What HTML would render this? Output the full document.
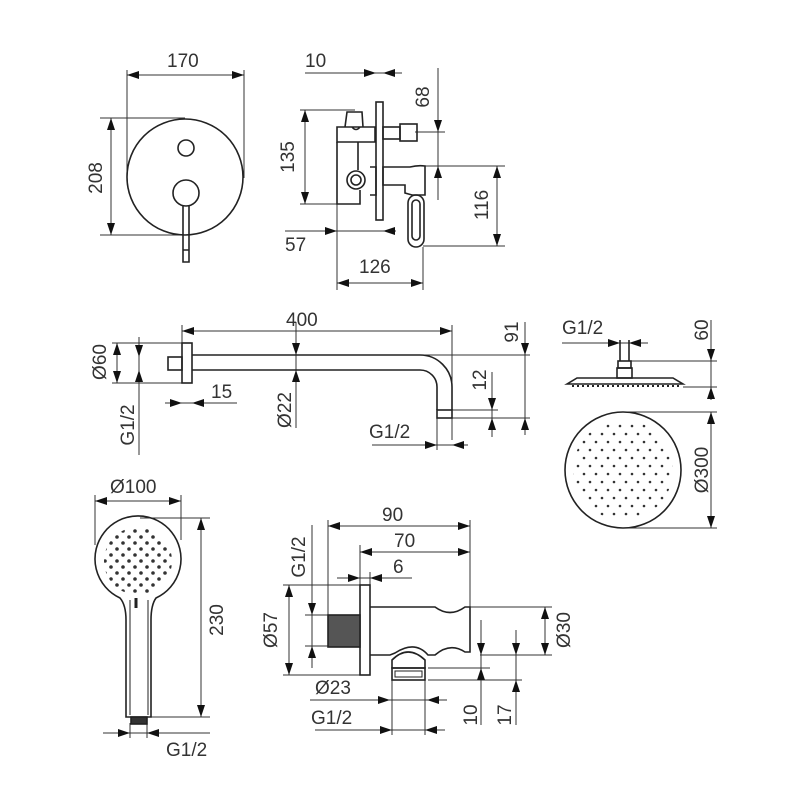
<!DOCTYPE html>
<html><head><style>body{margin:0;background:#fff}svg{display:block}text{font-family:"Liberation Sans",sans-serif;font-size:19px;fill:#333}</style></head><body>
<svg width="800" height="800" viewBox="0 0 800 800" xmlns="http://www.w3.org/2000/svg">
<defs><marker id="a" markerUnits="userSpaceOnUse" markerWidth="12" markerHeight="8" refX="12" refY="4" orient="auto"><path d="M0,0L12,4L0,8z" fill="#111"/></marker>
<clipPath id="rc"><circle cx="623" cy="470" r="50"/></clipPath>
<clipPath id="hc"><circle cx="138" cy="561" r="34"/></clipPath>
<pattern id="rp" x="0" y="0" width="12" height="16" patternUnits="userSpaceOnUse"><circle cx="2" cy="2" r="1.3" fill="#333"/><circle cx="8" cy="10" r="1.3" fill="#333"/></pattern>
<pattern id="hp" x="0" y="0" width="12" height="12" patternUnits="userSpaceOnUse"><circle cx="3" cy="3" r="1.8" fill="#333"/><circle cx="9" cy="9" r="1.8" fill="#333"/></pattern>
</defs>
<g stroke="#333" stroke-width="1" fill="none">
<path d="M127,70V180M244,70V178M127,75H244"/>
<path d="M100,118H185M100,235H185M111,118V235"/>
<path d="M305,73H402"/>
<path d="M300,110H355M300,204H337M305,110V204"/>
<path d="M415,132H445M425,166H505M438,68V200"/>
<path d="M423,246H505M497,166V246"/>
<path d="M285,231H395M337,204V290M423,247V290"/>
<path d="M337,283H423"/>
<path d="M182,325V345M452,325V440M182,331H452"/>
<path d="M112,343H185M112,383H185M117,343V383"/>
<path d="M139,337V455"/>
<path d="M165,403H237"/>
<path d="M296,322V428"/>
<path d="M420,355H530M452,418H530M525,322V435"/>
<path d="M452,410H498M492,372V437"/>
<path d="M372,445H468M437,418V450"/>
<path d="M562,343H648"/>
<path d="M630,361H717M683,387H717M711,320V395"/>
<path d="M625,412H717M625,528H717M711,412V528"/>
<path d="M95,495V545M181,495V540M95,501H181"/>
<path d="M140,518H210M150,717H210M201,518V717"/>
<path d="M103,733H210M130,723V738M147,723V738"/>
<path d="M328,520V615M470,520V607M328,526H470"/>
<path d="M360,545V585M360,552H470"/>
<path d="M337,578H412M370,572V585"/>
<path d="M305,615H328M305,646H328M312,525V668"/>
<path d="M283,585H360M283,675H360M289,585V675"/>
<path d="M470,607H552M480,655H552M545,607V655"/>
<path d="M428,668H490M481,620V725"/>
<path d="M428,680H522M516,630V725"/>
<path d="M310,700H447M392,680V735M425,680V735"/>
<path d="M315,730H445"/>
</g>
<g stroke="#333" stroke-width="1" marker-end="url(#a)">
<path d="M147,75H127"/><path d="M224,75H244"/>
<path d="M111,138V118"/><path d="M111,215V235"/>
<path d="M356,73H376"/><path d="M402,73H383"/>
<path d="M305,130V110"/><path d="M305,184V204"/>
<path d="M438,112V132"/><path d="M438,186V166"/>
<path d="M497,186V166"/><path d="M497,226V246"/>
<path d="M317,231H337"/><path d="M396,231H383"/>
<path d="M357,283H337"/><path d="M403,283H423"/>
<path d="M202,331H182"/><path d="M432,331H452"/>
<path d="M117,363V343"/><path d="M117,363V383"/>
<path d="M139,337V357"/><path d="M139,390V370"/>
<path d="M165,403H182"/><path d="M212,403H192"/>
<path d="M296,335V355"/><path d="M296,390V370"/>
<path d="M525,335V355"/><path d="M525,435V418"/>
<path d="M492,390V410"/><path d="M492,437V418"/>
<path d="M417,445H437"/><path d="M468,445H452"/>
<path d="M600,343H620"/><path d="M648,343H629"/>
<path d="M711,340V361"/><path d="M711,400V387"/>
<path d="M711,432V412"/><path d="M711,508V528"/>
<path d="M115,501H95"/><path d="M161,501H181"/>
<path d="M201,538V518"/><path d="M201,697V717"/>
<path d="M110,733H130"/><path d="M167,733H147"/>
<path d="M348,526H328"/><path d="M450,526H470"/>
<path d="M380,552H360"/><path d="M450,552H470"/>
<path d="M340,578H360"/><path d="M390,578H370"/>
<path d="M312,595V615"/><path d="M312,666V646"/>
<path d="M289,605V585"/><path d="M289,655V675"/>
<path d="M545,627V607"/><path d="M545,635V655"/>
<path d="M481,635V655"/><path d="M481,690V668"/>
<path d="M516,635V655"/><path d="M516,700V680"/>
<path d="M370,700H390"/><path d="M447,700H427"/>
<path d="M372,730H392"/><path d="M445,730H425"/>
</g>
<rect x="570" y="418" width="106" height="106" fill="url(#rp)" clip-path="url(#rc)"/>
<rect x="100" y="523" width="76" height="76" fill="url(#hp)" clip-path="url(#hc)"/>
<g stroke="#222" stroke-width="1.6" fill="none">
<circle cx="185" cy="177" r="58"/><circle cx="186" cy="148" r="8"/><circle cx="186" cy="193" r="13"/>
<path d="M183,206V262H189V206M183,250H189"/>
<rect x="376" y="102" width="7" height="118"/>
<path d="M337,127H375V142H337zM345,127L347,112H362L363,127M352,127Q356,132 360,127"/>
<path d="M337,142V204H360V190M358,142V170"/>
<circle cx="356" cy="180" r="9"/><circle cx="356" cy="180" r="5"/>
<path d="M370,167H376V195H370"/>
<rect x="383" y="127" width="17" height="12"/><rect x="400" y="124" width="17" height="17"/>
<path d="M383,167H410Q418,165 425,166V195H412L405,193V185L383,185Z"/>
<rect x="408" y="195" width="16" height="52" rx="8"/><rect x="412" y="200" width="8" height="40" rx="4"/>
<rect x="182" y="343" width="10" height="40"/><rect x="168" y="357" width="14" height="13"/>
<path d="M192,355H420A32,32 0 0 1 452,387V410M192,370H420A17,17 0 0 1 437,387V410"/>
<rect x="437" y="410" width="15" height="8"/>
<path d="M620,340V361M629,340V361"/><rect x="618" y="361" width="13" height="7"/><rect x="617" y="368" width="15" height="10"/>
<path d="M567,384L577,378H673L683,384Z"/>
<path d="M572,386H680" stroke-dasharray="2,3" stroke-width="2"/>
<circle cx="623" cy="470" r="58"/>
<path d="M126,717V620Q126,605 120,598 A43,43 0 1 1 156,598 Q151,605 151,620V717Z"/>
<path d="M130,600V715M148,600V715" stroke-width="1"/>
<rect x="131" y="717" width="16" height="7" fill="#333"/>
<path d="M136,598V608" stroke-width="3"/>
<rect x="360" y="585" width="10" height="90"/>
<rect x="328" y="615" width="32" height="32" fill="#555"/>
<path d="M370,607H435Q450,618 465,607H470V652H465Q450,642 435,655H428Q415,640 395,653L390,655H370"/>
<path d="M392,660Q408,644 425,660V668H392Z"/>
<rect x="392" y="668" width="33" height="12"/><rect x="395" y="671" width="27" height="6" stroke-width="1"/>
</g>
<g>
<text x="167" y="67">170</text>
<text transform="translate(102,178) rotate(-90)" text-anchor="middle">208</text>
<text x="305" y="67">10</text>
<text transform="translate(294,157) rotate(-90)" text-anchor="middle">135</text>
<text transform="translate(429,97) rotate(-90)" text-anchor="middle">68</text>
<text transform="translate(488,205) rotate(-90)" text-anchor="middle">116</text>
<text x="285" y="251">57</text>
<text x="359" y="273">126</text>
<text x="286" y="326">400</text>
<text transform="translate(106,362) rotate(-90)" text-anchor="middle">Ø60</text>
<text transform="translate(134,425) rotate(-90)" text-anchor="middle">G1/2</text>
<text x="211" y="398">15</text>
<text transform="translate(291,410) rotate(-90)" text-anchor="middle">Ø22</text>
<text transform="translate(518,332) rotate(-90)" text-anchor="middle">91</text>
<text transform="translate(486,380) rotate(-90)" text-anchor="middle">12</text>
<text x="369" y="438">G1/2</text>
<text x="562" y="334">G1/2</text>
<text transform="translate(708,330) rotate(-90)" text-anchor="middle">60</text>
<text transform="translate(708,470) rotate(-90)" text-anchor="middle">Ø300</text>
<text x="110" y="493">Ø100</text>
<text transform="translate(223,620) rotate(-90)" text-anchor="middle">230</text>
<text x="166" y="756">G1/2</text>
<text x="382" y="521">90</text>
<text x="394" y="547">70</text>
<text x="393" y="573">6</text>
<text transform="translate(305,557) rotate(-90)" text-anchor="middle">G1/2</text>
<text transform="translate(277,630) rotate(-90)" text-anchor="middle">Ø57</text>
<text transform="translate(570,630) rotate(-90)" text-anchor="middle">Ø30</text>
<text x="315" y="694">Ø23</text>
<text x="311" y="724">G1/2</text>
<text transform="translate(477,715) rotate(-90)" text-anchor="middle">10</text>
<text transform="translate(511,715) rotate(-90)" text-anchor="middle">17</text>
</g>
</svg>
</body></html>
